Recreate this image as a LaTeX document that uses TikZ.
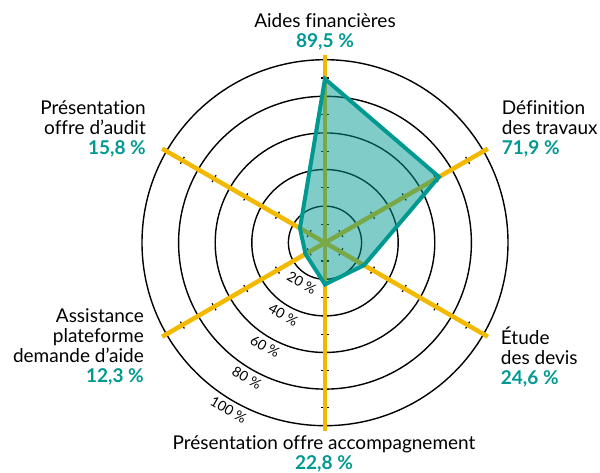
\documentclass[tikz,border=0pt]{standalone}
\usepackage{fontspec}
\setmainfont{Lato}[Ligatures=NoCommon]
\definecolor{axe}{RGB}{243,185,0}
\definecolor{sarcelle}{RGB}{0,153,145}
\newcommand{\valeur}[1]{{\color{sarcelle}\bfseries #1}}
\begin{document}
\begin{tikzpicture}[x=1pt, y=1pt,
    lbl/.style={font=\fontsize{19}{20}\selectfont, inner sep=0pt},
    pct/.style={font=\fontsize{14}{14}\selectfont, rotate=-30, inner sep=0pt}]
    \useasboundingbox (-325,-229.3) rectangle (275,242.7);
    % cercles et graduations
    \foreach \k in {1,...,5}
        \draw[line width=1.4] (0,0) circle (36.6*\k);
    \foreach \k in {1,...,5}
        \node[pct] (p\k) at (240:36.6*\k+10) {\number\numexpr20*\k\relax~\%};
    % axes
    \foreach \a in {90,30,-30,-90,210,150} {
        \foreach \t in {0.5,1.5,2.5,3.5,4.5}
            \draw[line width=1.2] (\a:36.6*\t) ++(\a+90:4) -- ++(\a-90:8);
        \draw[axe, line width=4.5] (0,0) -- (\a:188);
    }
    % valeurs
    \coordinate (aides) at (90:183*0.895);
    \coordinate (definition) at (30:183*0.719);
    \coordinate (etude) at (-30:183*0.246);
    \coordinate (accomp) at (-90:183*0.228);
    \coordinate (assist) at (210:183*0.123);
    \coordinate (audit) at (150:183*0.158);
    \fill[sarcelle, opacity=0.5] (aides) -- (definition) -- (etude) -- (accomp) -- (assist) -- (audit) -- cycle;
    \draw[sarcelle, line width=4] (aides) -- (definition) -- (etude) -- (accomp) -- (assist) -- (audit) -- cycle;
    % libelles
    \node[lbl, align=center] (t-aides) at (0,211) {Aides financières\\\valeur{89,5 \%}};
    \node[lbl, align=left, anchor=west] (t-definition) at (176.7,113.7) {Définition\\des travaux\\\valeur{71,9 \%}};
    \node[lbl, align=left, anchor=west] (t-etude) at (175.7,-114) {Étude\\des devis\\\valeur{24,6 \%}};
    \node[lbl, align=center] (t-accomp) at (-1,-211.5) {Présentation offre accompagnement\\\valeur{22,8 \%}};
    \node[lbl, align=right, anchor=east] (t-assist) at (-181,-103.8) {Assistance\\plateforme\\demande d’aide\\\valeur{12,3 \%}};
    \node[lbl, align=right, anchor=east] (t-audit) at (-179,113.4) {Présentation\\offre d’audit\\\valeur{15,8 \%}};
\end{tikzpicture}
\end{document}
